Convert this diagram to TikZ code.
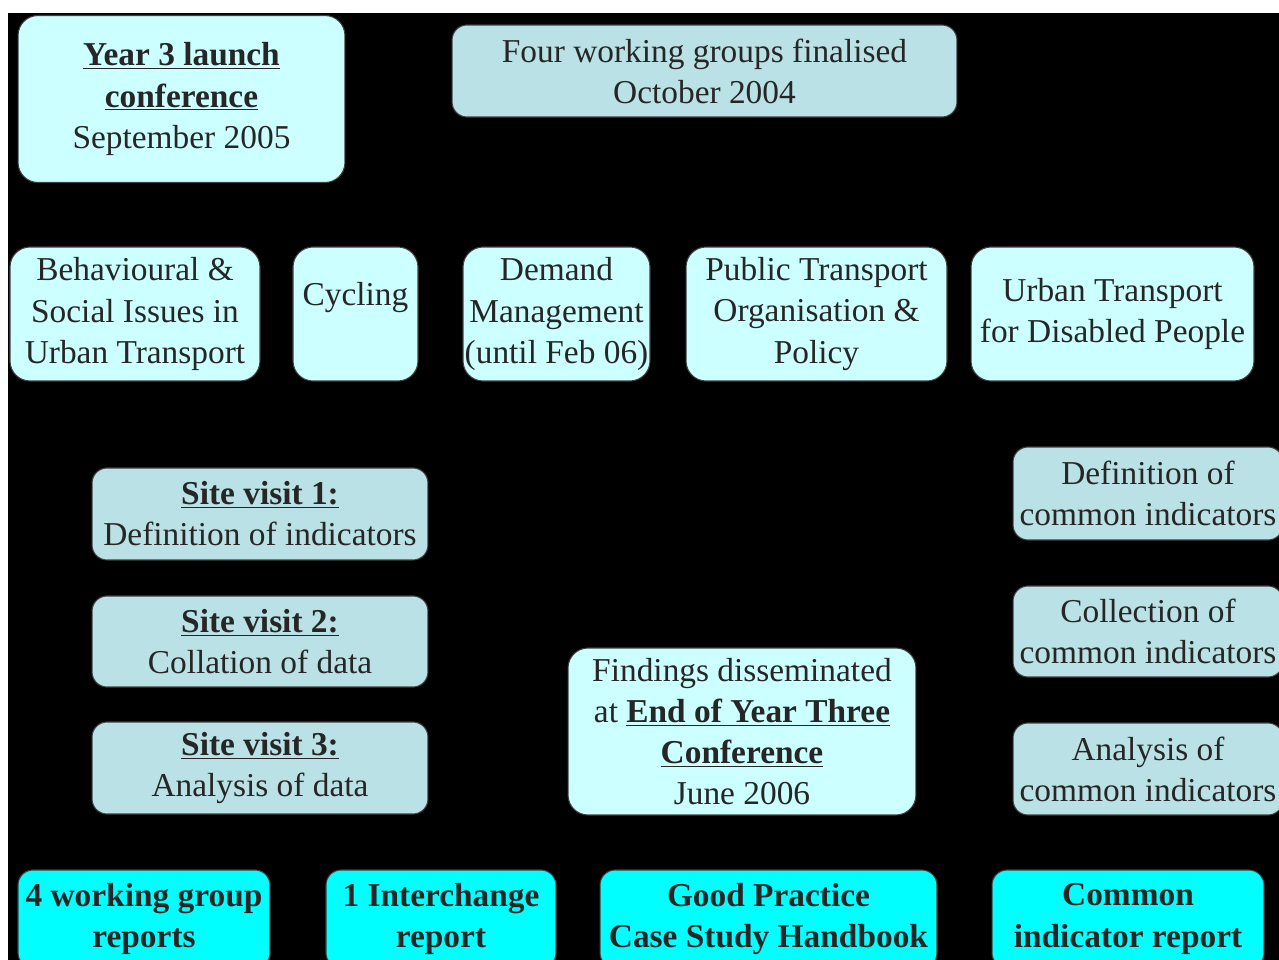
\documentclass[tikz,border=0pt]{standalone}
\usepackage{fontspec}
\setmainfont{Liberation Serif}
\usepackage{tikz}
\definecolor{palecyan}{RGB}{204,255,255}
\definecolor{greycyan}{RGB}{186,225,229}
\definecolor{brightcyan}{RGB}{0,255,255}
\tikzset{
	box/.style={rounded corners=0.4cm, draw=black!75, line width=0.6pt, inner sep=0pt, align=center, text=black!85, font=\fontsize{19}{23.4}\selectfont},
	palebox/.style={box, fill=palecyan},
	greybox/.style={box, fill=greycyan, rounded corners=0.3cm},
	outbox/.style={box, fill=brightcyan, rounded corners=0.3cm, font=\fontsize{19}{23.4}\selectfont\bfseries}
}
\newcommand{\ulb}[1]{\underline{\textbf{#1}}}

\begin{document}
\begin{tikzpicture}[x=0.02cm, y=-0.02cm]
			%%%%% START %%%%%
			
			\useasboundingbox (0, 0) rectangle (1279, 960);
			\clip (0, 0) rectangle (1279, 960);
			\fill[white] (0, 0) rectangle (1279, 960);
			\fill[black] (8, 13) rectangle (1279, 960);
			
			% top
			\node[palebox, minimum width=6.54cm, minimum height=3.34cm] (launch) at (181.5, 99) {\ulb{Year 3 launch}\\\ulb{conference}\\September 2005};
			\node[greybox, minimum width=10.1cm, minimum height=1.84cm] (groups) at (704.5, 71) {Four working groups finalised\\October 2004};
			
			% working groups
			\node[palebox, minimum width=5.0cm, minimum height=2.68cm] (behav) at (135, 314) {Behavioural \&\\Social Issues in\\Urban Transport};
			\node[palebox, minimum width=2.5cm, minimum height=2.68cm] (cycling) at (355.5, 314) {Cycling\\\mbox{}};
			\node[palebox, minimum width=3.74cm, minimum height=2.68cm] (demand) at (556.5, 314) {Demand\\Management\\(until Feb 06)};
			\node[palebox, minimum width=5.22cm, minimum height=2.68cm] (public) at (816.5, 314) {Public Transport\\Organisation \&\\Policy};
			\node[palebox, minimum width=5.66cm, minimum height=2.68cm] (disabled) at (1112.5, 314) {Urban Transport\\for Disabled People};
			
			% site visits
			\node[greybox, minimum width=6.72cm, minimum height=1.84cm] (visit1) at (260, 514) {\ulb{Site visit 1:}\\Definition of indicators};
			\node[greybox, minimum width=6.72cm, minimum height=1.82cm] (visit2) at (260, 641.5) {\ulb{Site visit 2:}\\Collation of data};
			\node[greybox, minimum width=6.72cm, minimum height=1.84cm] (visit3) at (260, 768) {\ulb{Site visit 3:}\\Analysis of data};
			
			\node[palebox, minimum width=6.96cm, minimum height=3.34cm] (findings) at (742, 731.5) {Findings disseminated\\at \ulb{End of Year Three}\\\ulb{Conference}\\June 2006};
			
			% common indicators
			\node[greybox, minimum width=5.4cm, minimum height=1.86cm] (define) at (1148, 493.5) {Definition of\\common indicators};
			\node[greybox, minimum width=5.4cm, minimum height=1.82cm] (collect) at (1148, 631.5) {Collection of\\common indicators};
			\node[greybox, minimum width=5.4cm, minimum height=1.84cm] (analyse) at (1148, 769) {Analysis of\\common indicators};
			
			% outputs
			\node[outbox, minimum width=5.04cm, minimum height=1.96cm] (wgreports) at (144, 919) {4 working group\\reports};
			\node[outbox, minimum width=4.6cm, minimum height=1.96cm] (interchange) at (441, 919) {1 Interchange\\report};
			\node[outbox, minimum width=6.74cm, minimum height=1.96cm] (handbook) at (768.5, 919) {Good Practice\\Case Study Handbook};
			\node[outbox, minimum width=5.44cm, minimum height=1.96cm] (indreport) at (1128, 919) {Common\\indicator report};
			
			%%%%% END %%%%%
\end{tikzpicture}
\end{document}
